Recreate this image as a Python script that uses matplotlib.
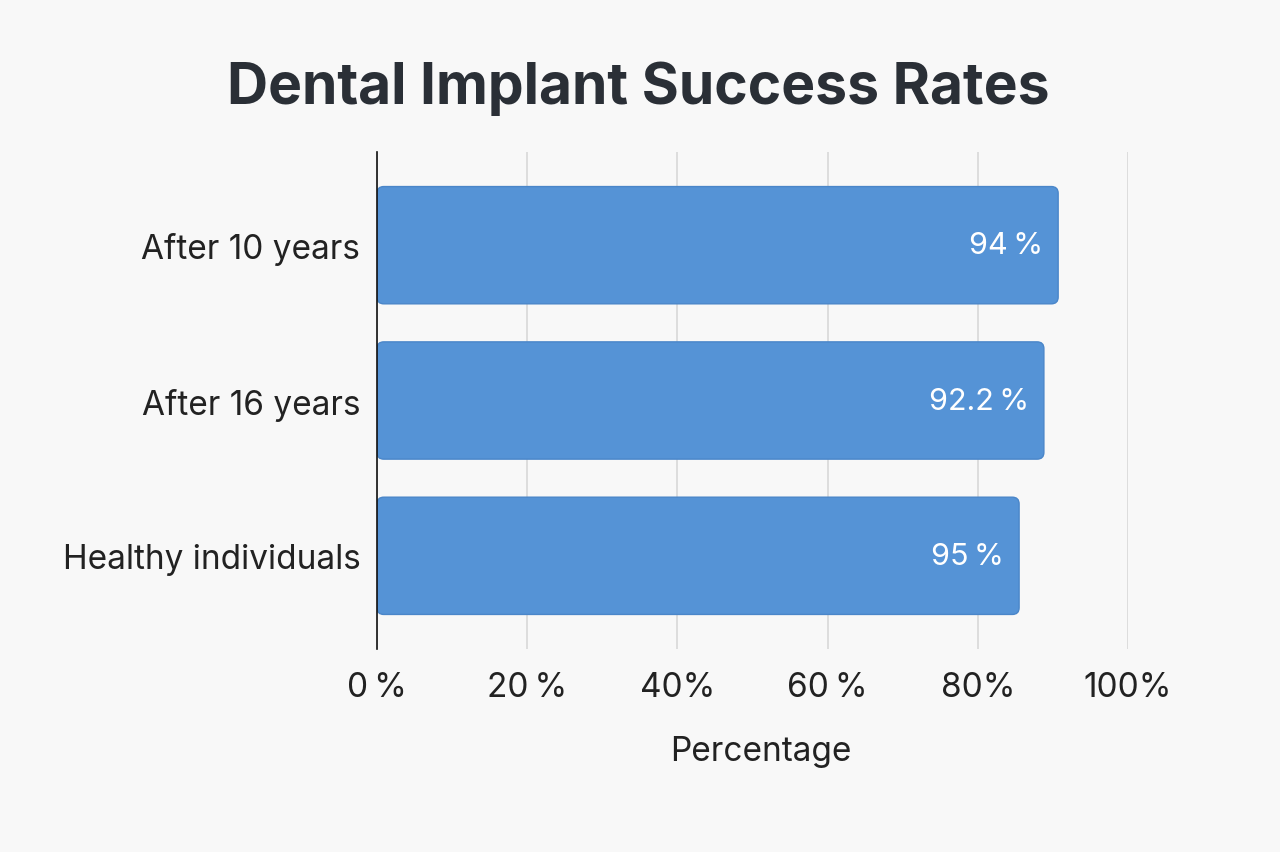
import matplotlib
matplotlib.use("Agg")
import matplotlib.pyplot as plt
from matplotlib.patches import FancyBboxPatch

categories = ["After 10 years", "After 16 years", "Healthy individuals"]
bar_values = [90.7, 88.8, 85.5]          # bar lengths as drawn in the reference
value_labels = ["94\u2009%", "92.2\u2009%", "95\u2009%"]  # labels printed on the bars
xticks = [0, 20, 40, 60, 80, 100]
xtick_labels = ["0\u2009%", "20\u2009%", "40%", "60\u2009%", "80%", "100%"]

plt.rcParams['font.family'] = ['Inter', 'DejaVu Sans']

W, H = 1280, 853
fig = plt.figure(figsize=(W / 100, H / 100), dpi=100, facecolor="#f8f8f8")
left, right, top, bottom = 377, 1128, 153, 650
ax = fig.add_axes([left / W, 1 - bottom / H, (right - left) / W, (bottom - top) / H])
ax.set_facecolor("#f8f8f8")

ax.set_xlim(0, 100)
ax.set_ylim(2.6, -0.6)

bar_h = 0.755
bars = ax.barh(range(len(categories)), bar_values, height=bar_h, color="none")
px_x = (right - left) / 100.0
px_y = (bottom - top) / 3.2
for b in bars:
    x0, y0 = b.get_x(), b.get_y()
    w, h = b.get_width(), b.get_height()
    p = FancyBboxPatch((x0, y0), w, h,
                       boxstyle="round,pad=0,rounding_size=0.9",
                       mutation_aspect=px_x / px_y,
                       facecolor="#5593d6", edgecolor="#4a86c9", linewidth=1.0,
                       zorder=3)
    ax.add_patch(p)
    b.set_visible(False)

for i, (v, lab) in enumerate(zip(bar_values, value_labels)):
    ax.text(v - 2.0, i, lab, ha="right", va="center", color="white",
            fontsize=22, zorder=4)

ax.set_yticks(range(len(categories)))
ax.set_yticklabels(categories, fontsize=24, color="#222222")
ax.set_xticks(xticks)
ax.set_xticklabels(xtick_labels, fontsize=24, color="#222222")
ax.tick_params(axis="both", length=0)
ax.tick_params(axis="x", pad=16)
ax.tick_params(axis="y", pad=12)

ax.grid(axis="x", color="#d8d8d8", linewidth=1.2, zorder=0)
ax.set_axisbelow(True)
for s in ["top", "right", "bottom"]:
    ax.spines[s].set_visible(False)
ax.spines["left"].set_color("#111111")
ax.spines["left"].set_linewidth(1.2)
ax.spines["left"].set_zorder(5)

ax.set_xlabel("Percentage", fontsize=24, color="#222222")
ax.xaxis.set_label_coords((761 - left) / (right - left), -(752 - bottom) / (bottom - top))
ax.xaxis.label.set_va("center")

fig.text(638 / W, 1 - 89 / H, "Dental Implant Success Rates", ha="center", va="center",
         fontsize=41, fontweight="bold", color="#2a2f36")

fig.savefig("out.png", dpi=100, facecolor=fig.get_facecolor())
